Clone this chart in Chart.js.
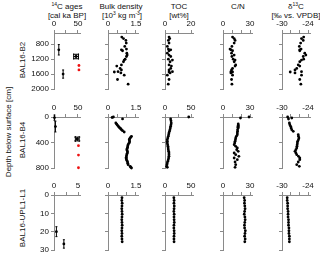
<!DOCTYPE html>
<html><head><meta charset="utf-8">
<script src="https://cdn.jsdelivr.net/npm/chart.js@4.4.1/dist/chart.umd.min.js"></script>
<style>
html,body{margin:0;padding:0;background:#fff;width:320px;height:253px;overflow:hidden;font-family:"Liberation Sans",Arial,sans-serif;}
#wrap{position:relative;width:320px;height:253px;}
canvas{position:absolute;}
.t{position:absolute;font-size:8px;color:#111;white-space:nowrap;transform:translate(-50%,-50%);line-height:8px;}
.r{position:absolute;font-size:8px;color:#111;white-space:nowrap;transform:translate(-50%,-50%) rotate(-90deg);line-height:8px;}
sup{font-size:5px;vertical-align:baseline;position:relative;top:-3px;}
</style></head>
<body><div id="wrap">
<div class="t" style="left:67px;top:7px"><sup>14</sup>C ages</div>
<div class="t" style="left:67px;top:16px">[cal ka BP]</div>
<div class="t" style="left:121px;top:7px">Bulk density</div>
<div class="t" style="left:122px;top:16px">[10<sup>3</sup> kg m<sup>-3</sup>]</div>
<div class="t" style="left:179px;top:7px">TOC</div>
<div class="t" style="left:179px;top:16px">[wt%]</div>
<div class="t" style="left:238px;top:7px">C/N</div>
<div class="t" style="left:296px;top:7px">δ<sup>13</sup>C</div>
<div class="t" style="left:296px;top:16px">[‰ vs. VPDB]</div>
<div class="r" style="left:9px;top:132px">Depth below surface [cm]</div>
<div class="r" style="left:23px;top:60px">BAL16-B2</div>
<div class="r" style="left:23px;top:140px">BAL16-B4</div>
<div class="r" style="left:23px;top:218px">BAL16-UPL1-L1</div>
</div>
<script>
// ---------------- DATA ----------------
const cores = ["BAL16-B2", "BAL16-B4", "BAL16-UPL1-L1"];
const variables = ["14C ages", "Bulk density", "TOC", "C/N", "δ13C"];

// 14C ages (ka) with depth (cm), errors
const b2AgeDepth = [950, 1130, 1600];
const b2Age = [10, 46, 19];
const b2AgeErr = [0.8, 5, 1];
const b2AgeDepthErr = [140, 60, 110];
const b2RedDepth = [390, 1370, 1490];
const b2RedAge = [50.5, 52, 52];

const b4AgeDepth = [10, 150, 345];
const b4Age = [1, 3, 48.5];
const b4AgeErr = [1.5, 1, 4];
const b4AgeDepthErr = [40, 85, 30];
const b4RedDepth = [450, 597, 796];
const b4RedAge = [51, 51, 51];

const l1AgeDepth = [20, 26.7];
const l1Age = [0.5, 2.05];
const l1AgeErr = [0.15, 0.2];
const l1AgeDepthErr = [2.7, 2.3];

// BAL16-B2 sediment parameters
const b2Depth = [610, 650, 700, 770, 860, 930, 950, 975, 1040, 1090, 1130, 1200, 1225, 1270, 1355, 1385, 1450, 1490, 1535, 1545, 1570, 1630, 1745, 1870];
const b2BD   = [0.74, 0.83, 0.96, 0.98, 0.90, 0.99, 0.72, 0.78, 1.01, 1.03, 0.99, 0.92, 0.87, 0.83, 0.72, 0.47, 0.65, 0.72, 0.54, 0.34, 0.69, 0.87, 0.51, 1.08];
const b2TOC  = [3.1, 3.6, 2.6, 3.1, 1.8, 2.6, 4.4, 3.1, 1.8, 3.1, 4.4, 2.6, 5.7, 3.9, 3.1, 4.9, 4.4, 3.1, 5.7, 3.1, 3.9, 1.8, 3.1, 2.5];
const b2CN   = [10.6, 12.4, 13.4, 12.4, 9.9, 7.8, 8.8, 10.6, 9.5, 12.4, 9.9, 11.3, 13.4, 12.4, 14.1, 13.4, 10.6, 9.5, 8.8, 10.6, 8.8, 10.6, 9.5, 9.9];
const b2D13C = [-25.0, -25.5, -25.1, -25.7, -26.0, -25.6, -25.9, -25.9, -24.75, -24.5, -25.1, -25.0, -25.5, -25.9, -26.25, -25.9, -26.6, -27.0, -25.5, -28.1, -27.0, -25.5, -25.9, -25.65];

// BAL16-B4 sediment parameters
const b4BdDepth = [0, 8, 30, 94, 112, 131, 147, 162, 175, 188, 201, 214, 235, 303, 316, 330, 343, 356, 374, 392, 413, 434, 455, 476, 495, 513, 531, 549, 570, 591, 612, 633, 652, 670, 688, 706, 727, 748, 774, 787, 800];
const b4BD      = [0.29, 0.22, 0.78, 0.42, 0.47, 0.51, 0.56, 0.60, 0.65, 0.69, 0.73, 0.78, 0.87, 1.26, 1.22, 1.19, 1.16, 1.14, 1.15, 1.16, 1.12, 1.08, 1.06, 1.05, 1.03, 1.01, 1.03, 1.05, 1.03, 1.01, 0.99, 0.98, 0.98, 0.99, 1.02, 1.05, 1.06, 1.08, 1.19, 1.22, 1.26];
const b4TocDepth = [0, 31, 60, 94, 120, 146, 172, 199, 225, 251, 277, 303, 330, 356, 382, 408, 434, 460, 486, 513, 539, 565, 591, 617, 643, 670, 696, 722, 748, 774, 790];
const b4TOC      = [45.6, 10.8, 11.5, 12.0, 11.5, 10.8, 10.2, 9.5, 8.5, 7.6, 7.0, 6.3, 5.3, 4.4, 4.4, 4.4, 5.0, 5.7, 6.0, 6.3, 7.0, 7.6, 7.6, 7.6, 7.0, 6.3, 5.3, 4.4, 3.8, 3.2, 4.4];
const b4CnDepth = [0, 16, 110, 128, 146, 160, 172, 200, 225, 250, 277, 303, 330, 356, 382, 408, 434, 460, 486, 512, 539, 565, 591, 617, 643, 670, 706, 748, 790];
const b4CN      = [28.9, 19.4, 16.9, 16.9, 16.9, 16.6, 16.9, 16.2, 16.2, 15.9, 15.9, 14.8, 14.1, 13.8, 13.4, 13.0, 12.4, 14.1, 15.9, 15.2, 16.9, 12.4, 14.1, 17.6, 12.4, 15.9, 13.4, 14.1, 13.4];
const b4D13cDepth = [0, 16, 31, 94, 120, 146, 172, 199, 225, 277, 303, 330, 356, 382, 408, 434, 460, 486, 513, 539, 565, 591, 617, 643, 670, 706, 748, 774];
const b4D13C      = [-28.7, -27.75, -28.5, -28.3, -28.2, -28.0, -27.9, -27.75, -27.4, -26.25, -26.2, -26.1, -26.2, -26.4, -26.45, -26.5, -26.55, -26.6, -26.8, -27.0, -26.8, -26.6, -26.2, -25.9, -25.9, -26.25, -26.6, -26.0];

// BAL16-UPL1-L1 sediment parameters
const l1Depth = [1.5, 3, 4.5, 6, 7.5, 9, 10.5, 12, 13.5, 15, 16.5, 18, 19.5, 21, 22.5, 24, 25.5];
const l1BD   = [0.75, 0.74, 0.76, 0.75, 0.74, 0.75, 0.76, 0.75, 0.74, 0.75, 0.76, 0.75, 0.74, 0.75, 0.74, 0.75, 0.76];
const l1TOC  = [17.0, 17.5, 17.2, 17.8, 17.4, 17.0, 17.6, 17.3, 17.5, 17.8, 17.2, 17.0, 17.5, 17.7, 17.3, 17.2, 17.4];
const l1CN   = [23.5, 24.0, 23.8, 24.2, 24.5, 24.0, 23.6, 24.3, 24.6, 24.2, 23.8, 24.0, 24.8, 24.4, 24.0, 24.6, 24.2];
const l1D13C = [-28.8, -28.8, -28.7, -28.7, -28.7, -28.6, -28.6, -28.6, -28.5, -28.5, -28.5, -28.4, -28.4, -28.4, -28.3, -28.3, -28.3];

// Axis ticks
const xTicks = [[0, 25, 50], [0, 0.5, 1, 1.5], [0, 10, 20], [0, 10, 20, 30], [-30, -28, -26, -24]];
const xTickLabels = [["0", "50"], ["0", "1.5"], ["0", "20"], ["0", "30"], ["-30", "-24"]];
const tocTicksWide = [0, 25, 50];
const ageTicksShort = [0, 2.5, 5];
const yTicksB2 = [800, 1200, 1600, 2000];
const yTicksB4 = [0, 400, 800];
const yTicksL1 = [0, 10, 20, 30];

// ---------------- LAYOUT ----------------
const FONT = '"Liberation Sans", Arial, sans-serif';
const colX = [54, 107.5, 165, 223, 282];
const colW = [26, 30, 28, 29, 28];
const rowY = [33, 117, 195];
const rowH = [56, 51, 55];
const LEFT = 30, TOP = 22, RIGHT = 10, BOTTOM = 8;

const errPlugin = {
  id: 'errbars',
  beforeDatasetsDraw(chart) {
    const ctx = chart.ctx, xs = chart.scales.x, ys = chart.scales.y;
    chart.data.datasets.forEach(ds => {
      if (!ds.err) return;
      ds.data.forEach((p, i) => {
        const e = ds.err[i];
        const px = xs.getPixelForValue(p.x), py = ys.getPixelForValue(p.y);
        ctx.save();
        ctx.strokeStyle = '#000';
        ctx.lineWidth = 1;
        ctx.beginPath();
        if (e.xe) {
          const x0 = xs.getPixelForValue(p.x - e.xe), x1 = xs.getPixelForValue(p.x + e.xe);
          ctx.moveTo(x0, py); ctx.lineTo(x1, py);
          if (e.xcap) {
            ctx.moveTo(x0, py - e.xcap); ctx.lineTo(x0, py + e.xcap);
            ctx.moveTo(x1, py - e.xcap); ctx.lineTo(x1, py + e.xcap);
          }
        }
        if (e.ye) {
          const y0 = ys.getPixelForValue(p.y - e.ye), y1 = ys.getPixelForValue(p.y + e.ye);
          ctx.moveTo(px, y0); ctx.lineTo(px, y1);
          if (e.ycap) {
            ctx.moveTo(px - e.ycap, y0); ctx.lineTo(px + e.ycap, y0);
            ctx.moveTo(px - e.ycap, y1); ctx.lineTo(px + e.ycap, y1);
          }
        }
        ctx.stroke();
        ctx.restore();
      });
    });
  }
};

function pts(depths, vals) { return depths.map((d, i) => ({ x: vals[i], y: d })); }

function blackSet(data, err) {
  const ds = { data, pointRadius: 1.4, pointBackgroundColor: '#000', pointBorderWidth: 0, showLine: false, clip: false };
  if (err) ds.err = err;
  return ds;
}
function redSet(data) {
  return { data, pointRadius: 1.4, pointBackgroundColor: '#ee1111', pointBorderWidth: 0, showLine: false, clip: false };
}

function panel(row, col, datasets, xMin, xMax, xt, xl, yMin, yMax, yt) {
  const w = LEFT + colW[col] + RIGHT, h = TOP + rowH[row] + BOTTOM;
  const cv = document.createElement('canvas');
  cv.width = w; cv.height = h;
  cv.style.left = (colX[col] - LEFT) + 'px';
  cv.style.top = (rowY[row] - TOP) + 'px';
  cv.style.width = w + 'px'; cv.style.height = h + 'px';
  document.getElementById('wrap').appendChild(cv);
  const axisCol = '#8a8a8a';
  new Chart(cv, {
    type: 'scatter',
    data: { datasets },
    plugins: [errPlugin],
    options: {
      responsive: false, animation: false, devicePixelRatio: 1,
      layout: { padding: { left: 0, top: 0, right: RIGHT, bottom: BOTTOM } },
      plugins: { legend: { display: false }, tooltip: { enabled: false } },
      scales: {
        x: {
          type: 'linear', position: 'top', min: xMin, max: xMax,
          afterBuildTicks: s => { s.ticks = xt.map(v => ({ value: v })); },
          afterFit: s => { s.height = TOP; },
          ticks: {
            autoSkip: false, maxRotation: 0, padding: 1, color: '#111',
            font: { size: 8, family: FONT },
            callback: (v) => { const str = String(v); return xl.includes(str) ? str : ''; }
          },
          grid: { display: true, drawOnChartArea: false, drawTicks: true, tickLength: 3, color: axisCol, lineWidth: 1 },
          border: { display: true, color: axisCol, width: 1 }
        },
        y: {
          type: 'linear', reverse: true, min: yMin, max: yMax,
          afterBuildTicks: s => { s.ticks = yt.map(v => ({ value: v })); },
          afterFit: s => { s.width = LEFT; },
          ticks: {
            autoSkip: false, padding: 2, color: '#111',
            font: { size: 8, family: FONT },
            callback: (v) => col === 0 ? String(v) : ''
          },
          grid: { display: true, drawOnChartArea: false, drawTicks: true, tickLength: 3, color: axisCol, lineWidth: 1 },
          border: { display: true, color: axisCol, width: 1 }
        }
      }
    }
  });
}

// Row 1: BAL16-B2
const r1 = [500, 2000, yTicksB2];
panel(0, 0, [
  blackSet(pts(b2AgeDepth, b2Age), b2Age.map((a, i) => ({ xe: b2AgeErr[i], ye: b2AgeDepthErr[i], xcap: i === 1 ? 3 : 0, ycap: i === 1 ? 3 : 1 }))),
  redSet(pts(b2RedDepth, b2RedAge))
], 0, 54.2, xTicks[0], xTickLabels[0], ...r1);
panel(0, 1, [blackSet(pts(b2Depth, b2BD))], 0, 1.61, xTicks[1], xTickLabels[1], ...r1);
panel(0, 2, [blackSet(pts(b2Depth, b2TOC))], 0, 21.5, xTicks[2], xTickLabels[2], ...r1);
panel(0, 3, [blackSet(pts(b2Depth, b2CN))], 0, 32.2, xTicks[3], xTickLabels[3], ...r1);
panel(0, 4, [blackSet(pts(b2Depth, b2D13C))], -30, -23.54, xTicks[4], xTickLabels[4], ...r1);

// Row 2: BAL16-B4
const r2 = [0, 800, yTicksB4];
panel(1, 0, [
  blackSet(pts(b4AgeDepth, b4Age), b4Age.map((a, i) => ({ xe: b4AgeErr[i], ye: b4AgeDepthErr[i], xcap: i === 2 ? 3 : 0, ycap: i === 2 ? 3 : 1 }))),
  redSet(pts(b4RedDepth, b4RedAge))
], 0, 54.2, xTicks[0], xTickLabels[0], ...r2);
panel(1, 1, [blackSet(pts(b4BdDepth, b4BD))], 0, 1.61, xTicks[1], xTickLabels[1], ...r2);
panel(1, 2, [blackSet(pts(b4TocDepth, b4TOC))], 0, 53.8, tocTicksWide, ["0", "50"], ...r2);
panel(1, 3, [blackSet(pts(b4CnDepth, b4CN))], 0, 32.2, xTicks[3], xTickLabels[3], ...r2);
panel(1, 4, [blackSet(pts(b4D13cDepth, b4D13C))], -30, -23.54, xTicks[4], xTickLabels[4], ...r2);

// Row 3: BAL16-UPL1-L1
const r3 = [0, 30, yTicksL1];
panel(2, 0, [
  blackSet(pts(l1AgeDepth, l1Age), l1Age.map((a, i) => ({ xe: l1AgeErr[i], ye: l1AgeDepthErr[i], xcap: 0, ycap: 1 })))
], 0, 5.4, ageTicksShort, ["0", "5"], ...r3);
panel(2, 1, [blackSet(pts(l1Depth, l1BD))], 0, 1.61, xTicks[1], xTickLabels[1], ...r3);
panel(2, 2, [blackSet(pts(l1Depth, l1TOC))], 0, 53.8, tocTicksWide, ["0", "50"], ...r3);
panel(2, 3, [blackSet(pts(l1Depth, l1CN))], 0, 32.2, xTicks[3], xTickLabels[3], ...r3);
panel(2, 4, [blackSet(pts(l1Depth, l1D13C))], -30, -23.54, xTicks[4], xTickLabels[4], ...r3);
</script>
</body></html>
